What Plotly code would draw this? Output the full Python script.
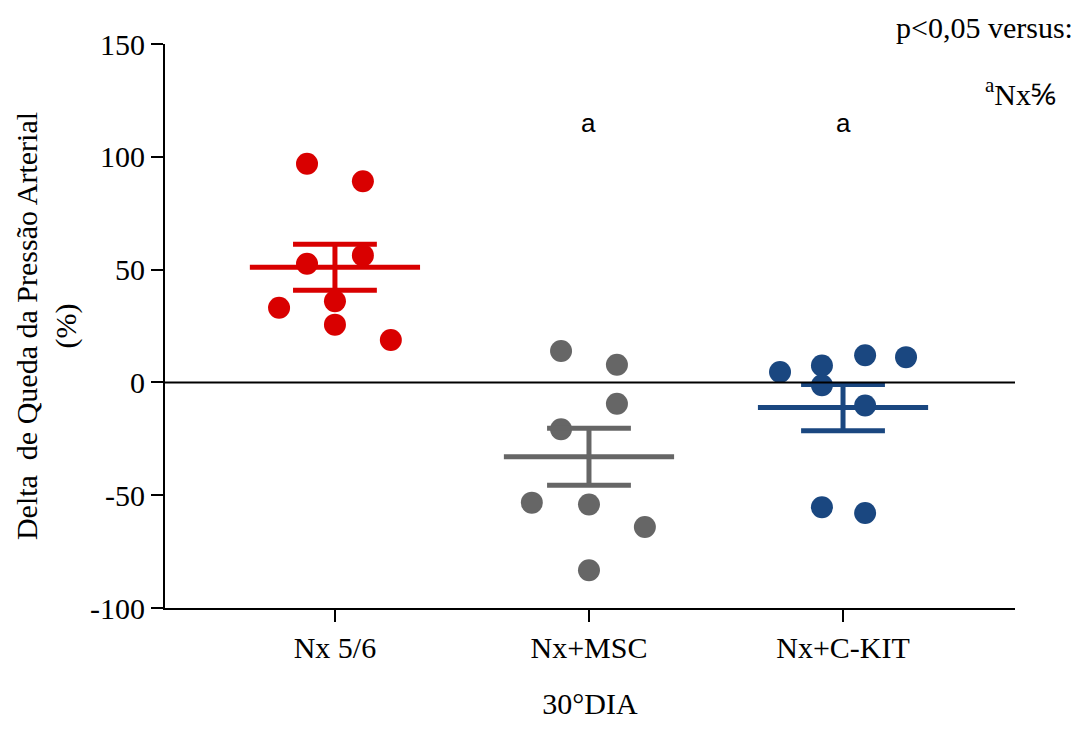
import plotly.graph_objects as go
import numpy as np

categories = ["Nx 5/6", "Nx+MSC", "Nx+C-KIT"]
colors = ["#D90000", "#666666", "#1A4780"]

nx56_values = [96.9, 89.2, 52.6, 56.3, 36.0, 33.1, 25.6, 18.8]
msc_values = [13.9, 7.8, -9.5, -20.8, -53.3, -54.1, -64.1, -83.3]
ckit_values = [4.6, 7.5, -1.3, 12.0, 11.2, -10.2, -55.3, -57.9]

# horizontal scatter (jitter) offsets of each dot, in category units
nx56_offsets = [-0.11, 0.11, -0.11, 0.11, 0.0, -0.22, 0.0, 0.22]
msc_offsets = [-0.11, 0.11, 0.11, -0.11, -0.225, 0.0, 0.22, 0.0]
ckit_offsets = [-0.248, -0.083, -0.083, 0.087, 0.248, 0.087, -0.083, 0.087]

signif = ["", "a", "a"]
y_ticks = [-100, -50, 0, 50, 100, 150]
y_ticktext = ["-100", "-50", "0", "50", "100", "150"]

groups = [
    (nx56_values, nx56_offsets),
    (msc_values, msc_offsets),
    (ckit_values, ckit_offsets),
]

SERIF = "Liberation Serif, Times New Roman, serif"
FS = 30
fig = go.Figure()

for i, ((vals, offs), col) in enumerate(zip(groups, colors)):
    v = np.array(vals)
    mean = v.mean()
    sem = v.std(ddof=1) / np.sqrt(len(v))
    fig.add_trace(go.Scatter(
        x=[i + o for o in offs], y=vals, mode="markers",
        marker=dict(size=22, color=col, line=dict(width=0)),
        showlegend=False, hoverinfo="y"))
    # mean line
    fig.add_trace(go.Scatter(
        x=[i - 0.335, i + 0.335], y=[mean, mean], mode="lines",
        line=dict(color=col, width=5), showlegend=False, hoverinfo="skip"))
    # SEM stem and caps
    fig.add_trace(go.Scatter(
        x=[i, i, None, i - 0.165, i + 0.165, None, i - 0.165, i + 0.165],
        y=[mean - sem, mean + sem, None, mean + sem, mean + sem, None, mean - sem, mean - sem],
        mode="lines", line=dict(color=col, width=5),
        showlegend=False, hoverinfo="skip"))
    if signif[i]:
        fig.add_annotation(x=i, y=115, text=signif[i], showarrow=False,
                           font=dict(family="Liberation Sans, Arial, sans-serif", size=26, color="black"))

fig.add_shape(type="line", xref="paper", yref="y", x0=0, x1=1, y0=0, y1=0,
              line=dict(color="black", width=2), layer="above")

fig.add_annotation(xref="paper", yref="paper", x=1.0706, y=1.030, xanchor="right", yanchor="middle",
                   text="p&lt;0,05 versus:", showarrow=False,
                   font=dict(family=SERIF, size=FS, color="black"))
fig.add_annotation(xref="paper", yref="paper", x=1.0506, y=0.915, xanchor="right", yanchor="middle",
                   text="<sup>a</sup>Nx⅚", showarrow=False,
                   font=dict(family=SERIF, size=FS, color="black"))

fig.update_layout(
    width=1075, height=723,
    margin=dict(l=157, r=68, t=36, b=123),
    plot_bgcolor="white", paper_bgcolor="white",
    font=dict(family=SERIF, size=FS, color="black"),
    xaxis=dict(
        range=[-0.669, 2.677], tickmode="array", tickvals=[0, 1, 2], ticktext=categories,
        showline=True, linecolor="black", linewidth=2, ticks="outside", ticklen=12,
        tickwidth=1.5, tickcolor="black", showgrid=False, zeroline=False,
        tickfont=dict(size=FS),
        title=dict(text="30°DIA", font=dict(size=FS), standoff=30),
    ),
    yaxis=dict(
        range=[-100, 150], tickmode="array", tickvals=y_ticks, ticktext=y_ticktext,
        showline=True, linecolor="black", linewidth=2, ticks="outside", ticklen=12,
        tickwidth=1.5, tickcolor="black", showgrid=False, zeroline=False,
        tickfont=dict(size=FS),
        title=dict(text="Delta  de Queda da Pressão Arterial<br>(%)", font=dict(size=FS), standoff=5),
    ),
)

fig.write_html("out.html")
